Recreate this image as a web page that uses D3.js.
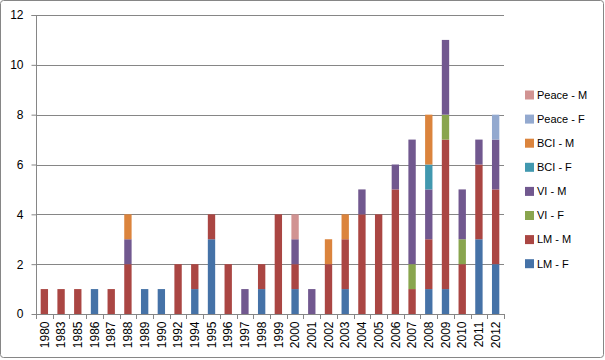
<!DOCTYPE html>
<html><head><meta charset="utf-8">
<script src="https://cdn.jsdelivr.net/npm/d3@7"></script>
<style>body{margin:0;background:#fff;}svg{display:block;font-family:"Liberation Sans",Arial,sans-serif;}</style>
</head><body><svg id="c" width="605" height="360"></svg>
<script>
const years = ["1980","1983","1985","1986","1987","1988","1989","1990","1992","1994","1995","1996","1997","1998","1999","2000","2001","2002","2003","2004","2005","2006","2007","2008","2009","2010","2011","2012"];
const lmF    = [0,0,0,1,0,0,1,1,0,1,3,0,0,1,0,1,0,0,1,0,0,0,0,1,1,0,3,2];
const lmM    = [1,1,1,0,1,2,0,0,2,1,1,2,0,1,4,1,0,2,2,4,4,5,1,2,6,2,3,3];
const viF    = [0,0,0,0,0,0,0,0,0,0,0,0,0,0,0,0,0,0,0,0,0,0,1,0,1,1,0,0];
const viM    = [0,0,0,0,0,1,0,0,0,0,0,0,1,0,0,1,1,0,0,1,0,1,5,2,3,2,1,2];
const bciF   = [0,0,0,0,0,0,0,0,0,0,0,0,0,0,0,0,0,0,0,0,0,0,0,1,0,0,0,0];
const bciM   = [0,0,0,0,0,1,0,0,0,0,0,0,0,0,0,0,0,1,1,0,0,0,0,2,0,0,0,0];
const peaceF = [0,0,0,0,0,0,0,0,0,0,0,0,0,0,0,0,0,0,0,0,0,0,0,0,0,0,0,1];
const peaceM = [0,0,0,0,0,0,0,0,0,0,0,0,0,0,0,1,0,0,0,0,0,0,0,0,0,0,0,0];
const yTicks = [0,2,4,6,8,10,12];

const series = [
  {name:"LM - F", values:lmF, color:"#4572A7"},
  {name:"LM - M", values:lmM, color:"#AA4643"},
  {name:"VI - F", values:viF, color:"#89A54E"},
  {name:"VI - M", values:viM, color:"#71588F"},
  {name:"BCI - F", values:bciF, color:"#4198AF"},
  {name:"BCI - M", values:bciM, color:"#DB843D"},
  {name:"Peace - F", values:peaceF, color:"#93A9CF"},
  {name:"Peace - M", values:peaceM, color:"#D19392"}
];

const svg = d3.select("#c");
svg.append("rect").attr("x",0.5).attr("y",0.5).attr("width",603).attr("height",357)
  .attr("rx",3).attr("fill","#fff").attr("stroke","#868686");

const L=36, R=504, T=15, B=314;
const x = d3.scaleBand().domain(years).range([L,R]).padding(0);
const y = d3.scaleLinear().domain([0,12]).range([B,T]);

// gridlines
svg.append("g").selectAll("line").data(yTicks.filter(d=>d>0)).join("line")
  .attr("x1",L).attr("x2",R).attr("y1",d=>Math.round(y(d))+0.5).attr("y2",d=>Math.round(y(d))+0.5)
  .attr("stroke","#868686").attr("stroke-width",1);

// stacked bars
const table = years.map((yr,i)=>{const o={year:yr}; series.forEach(s=>o[s.name]=s.values[i]); return o;});
const stack = d3.stack().keys(series.map(s=>s.name))(table);
const bw = x.bandwidth()*0.44;
stack.forEach((layer,k)=>{
  svg.append("g").attr("fill",series[k].color).selectAll("rect").data(layer.filter(d=>d[1]>d[0])).join("rect")
    .attr("x",d=>x(d.data.year)+(x.bandwidth()-bw)/2)
    .attr("width",bw)
    .attr("y",d=>y(d[1]))
    .attr("height",d=>y(d[0])-y(d[1]));
});

// y axis
const ya = svg.append("g").attr("transform",`translate(${L+0.5},0)`)
  .call(d3.axisLeft(y).tickValues(yTicks).tickSize(5).tickPadding(8));
ya.select(".domain").attr("stroke","#868686").attr("d",`M-5,${T+0.5}H0V${B}`);
ya.selectAll(".tick line").attr("stroke","#868686");
ya.selectAll(".tick text").attr("font-size","12px").attr("fill","#000").attr("font-family","Liberation Sans, Arial, sans-serif");

// x axis
const xa = svg.append("g").attr("transform",`translate(0,${B+0.5})`)
  .call(d3.axisBottom(x).tickSize(0).tickFormat(d=>d));
xa.select(".domain").attr("stroke","#868686").attr("d",`M${L},0H${R}`);
xa.selectAll(".tick text").attr("font-size","12px").attr("fill","#000")
  .attr("font-family","Liberation Sans, Arial, sans-serif")
  .attr("transform","rotate(-90)").attr("text-anchor","end").attr("dx","-7px").attr("dy","0.35em").attr("y",0).attr("x",0);
// category separator ticks
svg.append("g").selectAll("line").data(years).join("line")
  .attr("x1",d=>Math.round(x(d)+x.bandwidth())+0.5).attr("x2",d=>Math.round(x(d)+x.bandwidth())+0.5)
  .attr("y1",B).attr("y2",B+5).attr("stroke","#868686");
svg.append("line").attr("x1",L+0.5).attr("x2",L+0.5).attr("y1",B).attr("y2",B+5).attr("stroke","#868686");

// legend
const legendOrder = series.slice().reverse();
const lg = svg.append("g").selectAll("g").data(legendOrder).join("g")
  .attr("transform",(d,i)=>`translate(525,${95+i*24.1})`);
lg.append("rect").attr("x",0).attr("y",-4.5).attr("width",9).attr("height",9).attr("fill",d=>d.color);
lg.append("text").attr("x",12).attr("y",0).attr("dy","0.35em").attr("font-size","11px").attr("fill","#000").text(d=>d.name);
</script></body></html>
